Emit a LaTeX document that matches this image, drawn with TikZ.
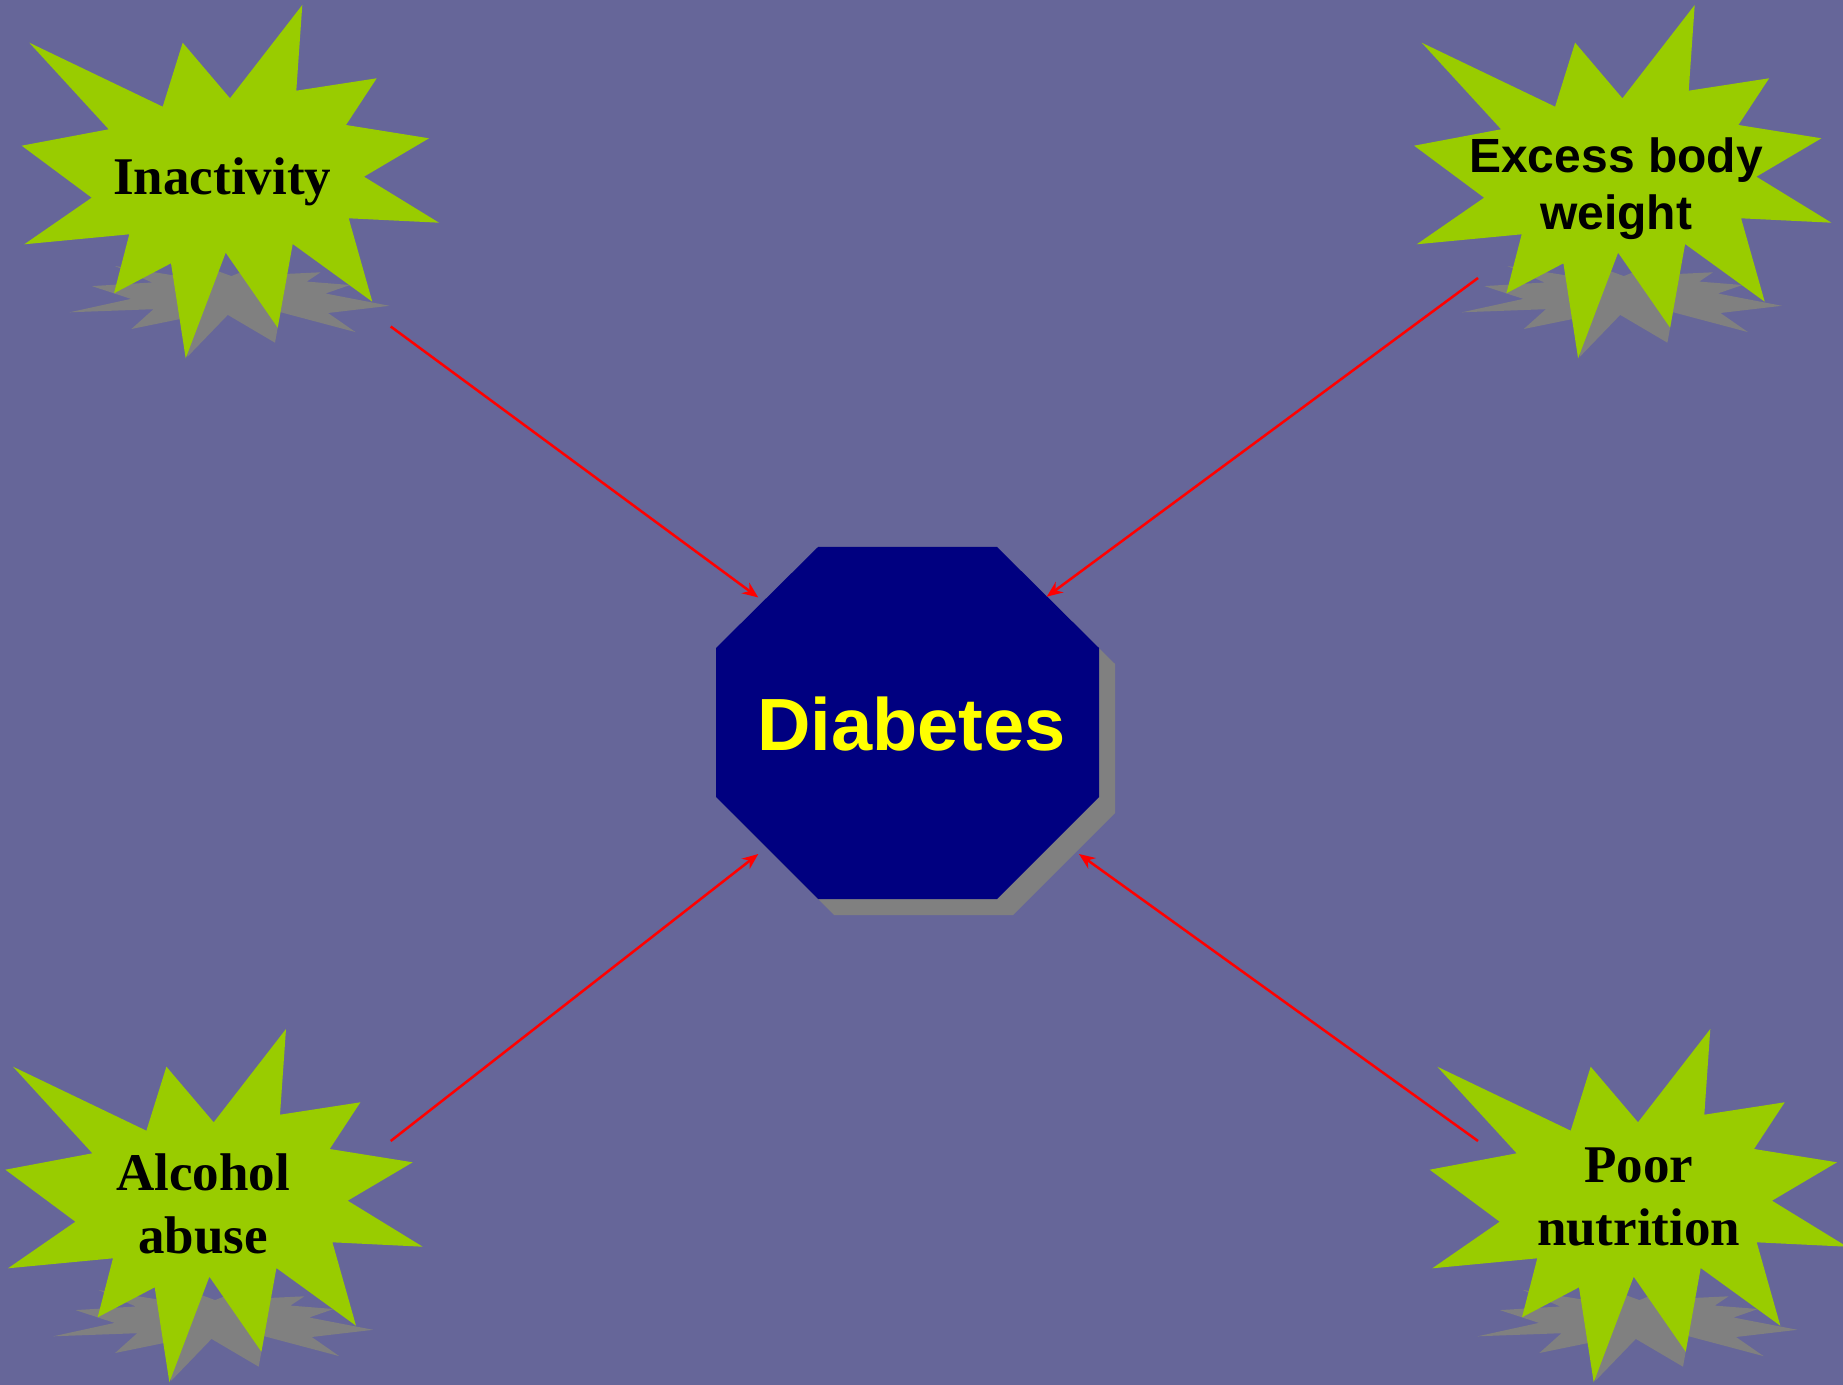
\documentclass[tikz,border=0pt]{standalone}
\usepackage{fontspec}
\setmainfont{Liberation Serif}
\newfontfamily\arialfont{Liberation Sans}
\usetikzlibrary{arrows.meta}
\definecolor{bgc}{RGB}{102,102,153}
\definecolor{burstgreen}{RGB}{153,204,0}
\definecolor{shadowgray}{RGB}{128,128,128}
\definecolor{octnavy}{RGB}{0,0,128}
\definecolor{linkred}{RGB}{255,0,0}
\definecolor{textyellow}{RGB}{255,255,0}
\tikzset{
  burst/.pic={
    \fill[shadowgray] (271.4,259.9) -- (272.4,274.6) -- (320.6,272.3) -- (306.7,281.6) -- (350,285) -- (325.4,293.5) -- (389.4,305.8) -- (328,313) -- (355.5,332.1) -- (280.5,312.2) -- (275,342.7) -- (227.8,314.9) -- (187.5,356.7) -- (183.2,318.4) -- (131.4,329) -- (153.5,309.2) -- (69.6,312.3) -- (130.9,298.9) -- (91.9,286.1) -- (152.1,282.5) -- (115,266) -- (188.8,277.8) -- (204,266) -- (231.4,276.1) -- cycle;
    \fill[burstgreen] (302.3,5) -- (296.3,90.7) -- (376.7,78.3) -- (346,125) -- (429,138.3) -- (364,176.7) -- (439,222.7) -- (348.7,218.3) -- (372.3,301.7) -- (292.7,244) -- (277.7,327.7) -- (225.7,252.7) -- (185.7,358.3) -- (171,263.3) -- (114,293.3) -- (129.3,234.3) -- (24.3,244.3) -- (91.7,197.7) -- (21.7,145.7) -- (108.7,129.3) -- (29.3,42.7) -- (162.7,106.7) -- (182.7,42.7) -- (230,98.3) -- cycle;
  },
  serlabel/.style={inner sep=0pt, align=center, text=black, font=\fontsize{26.5pt}{31.65pt}\selectfont\bfseries},
  sanslabel/.style={inner sep=0pt, align=center, text=black, font=\arialfont\fontsize{24pt}{28.8pt}\selectfont\bfseries},
  link/.style={draw=linkred, line width=1.25pt, -{Stealth[length=8pt,width=6.5pt]}}
}
\begin{document}
\begin{tikzpicture}[x=0.5pt,y=-0.5pt]
\fill[bgc] (0,0) rectangle (1843,1385);
\useasboundingbox (0,0) rectangle (1843,1385);

% bursts
\pic at (0,0) {burst};
\pic at (1392.4,0) {burst};
\pic at (-16.3,1024) {burst};
\pic at (1408,1024) {burst};

% octagon with shadow
\fill[shadowgray] (834,563) -- (1013,563) -- (1115,664) -- (1115,813) -- (1013,915) -- (834,915) -- (732,813) -- (732,664) -- cycle;
\fill[octnavy] (818,547) -- (997,547) -- (1099,648) -- (1099,797) -- (997,899) -- (818,899) -- (716,797) -- (716,648) -- cycle;

% labels
\node[serlabel, anchor=base] (inact) at (222.3,195) {Inactivity};
\node[sanslabel] (excess) at (1616,188.6) {Excess body\\weight};
\node[serlabel] (alcohol) at (203,1203.8) {Alcohol\\abuse};
\node[serlabel] (poor) at (1638.6,1196.9) {Poor\\nutrition};
\node[inner sep=0pt, text=textyellow, font=\arialfont\fontsize{37pt}{44pt}\selectfont\bfseries, anchor=base] (diab) at (911.5,750) {Diabetes};

% connector ends
\coordinate (inactOut) at (390.7,326.5);
\coordinate (excessOut) at (1478,278);
\coordinate (alcoholOut) at (390.7,1141);
\coordinate (poorOut) at (1478,1141);
\coordinate (diabNW) at (758.3,597.5);
\coordinate (diabNE) at (1046.7,596.7);
\coordinate (diabSW) at (758.3,854);
\coordinate (diabSE) at (1079,854);

\draw[link] (inactOut) -- (diabNW);
\draw[link] (excessOut) -- (diabNE);
\draw[link] (alcoholOut) -- (diabSW);
\draw[link] (poorOut) -- (diabSE);
\end{tikzpicture}
\end{document}
